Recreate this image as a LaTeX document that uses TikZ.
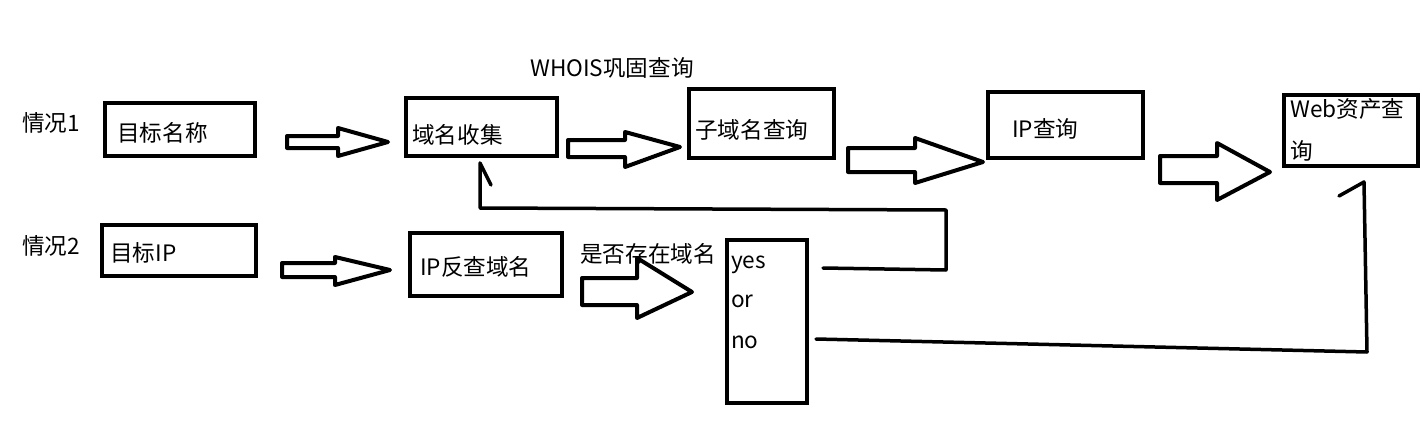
\documentclass[tikz,border=0pt]{standalone}
\usepackage{fontspec}
\setmainfont{Noto Sans CJK SC}
\begin{document}
\begin{tikzpicture}[x=1pt,y=-1pt,
  every node/.style={font=\fontsize{22.6}{26}\selectfont, inner sep=0pt},
  box/.style={draw, line width=4pt, rectangle},
  lbl/.style={anchor=base west},
  blockarrow/.style={draw, line width=4pt, line join=round},
  wire/.style={draw, line width=3.5pt, line cap=round, line join=round}]
\useasboundingbox (0,0) rectangle (1422,423);
% labels
\node[lbl] (title) at (530,76) {WHOIS巩固查询};
\node[lbl] (case1) at (22,131) {情况1};
\node[lbl] (case2) at (22,254) {情况2};
% boxes
\draw[box] (105,103) rectangle (255,156);
\node[lbl] (t1) at (117,141) {目标名称};
\draw[box] (406,98) rectangle (557,156);
\node[lbl] (t2) at (412,143) {域名收集};
\draw[box] (689,89) rectangle (834,158);
\node[lbl] (t3) at (695,138) {子域名查询};
\draw[box] (988,92) rectangle (1143,158);
\node[lbl] (t4) at (1012,137) {IP查询};
\draw[box] (1284,95) rectangle (1418,166);
\node[lbl] (t5a) at (1290,117) {Web资产查};
\node[lbl] (t5b) at (1290,159) {询};
\draw[box] (102,225) rectangle (256,276);
\node[lbl] (t6) at (110,261) {目标IP};
\draw[box] (410,233) rectangle (562,296);
\node[lbl] (t7) at (420,275) {IP反查域名};
\node[lbl] (q) at (580,262) {是否存在域名};
\draw[box] (727,240) rectangle (807,403);
\node[lbl] (yes) at (731,268) {yes};
\node[lbl] (or) at (731,307) {or};
\node[lbl] (no) at (731,348) {no};
% block arrows
\draw[blockarrow] (287,136) -- (338,136) -- (338,128) -- (388,142) -- (338,156) -- (338,148) -- (287,148) -- cycle;
\draw[blockarrow] (568,140) -- (625,140) -- (625,132) -- (680,147) -- (625,167) -- (625,157) -- (568,157) -- cycle;
\draw[blockarrow] (848,148) -- (915,148) -- (915,138) -- (983,162) -- (915,183) -- (915,172) -- (848,172) -- cycle;
\draw[blockarrow] (1160,156) -- (1217,156) -- (1217,143) -- (1270,172) -- (1217,200) -- (1217,183) -- (1160,183) -- cycle;
\draw[blockarrow] (282,263) -- (335,263) -- (335,257) -- (390,270) -- (335,285) -- (335,277) -- (282,277) -- cycle;
\draw[blockarrow] (582,278) -- (637,278) -- (637,258) -- (692,292) -- (637,318) -- (637,305) -- (582,305) -- cycle;
% yes loop back to domain collection
\coordinate (yesout) at (823,268);
\coordinate (loopA) at (946,270);
\coordinate (loopB) at (946,210);
\coordinate (loopC) at (480,208);
\coordinate (looptip) at (480,163);
\coordinate (loopbarb) at (491,185);
\draw[wire] (yesout) -- (loopA) -- (loopB) -- (loopC) -- (looptip) -- (loopbarb);
% no line to web assets
\coordinate (noout) at (816,339);
\coordinate (noA) at (1367,352);
\coordinate (notip) at (1364,182);
\coordinate (nobarb) at (1339,196);
\draw[wire] (noout) -- (noA) -- (notip) -- (nobarb);
\end{tikzpicture}
\end{document}
